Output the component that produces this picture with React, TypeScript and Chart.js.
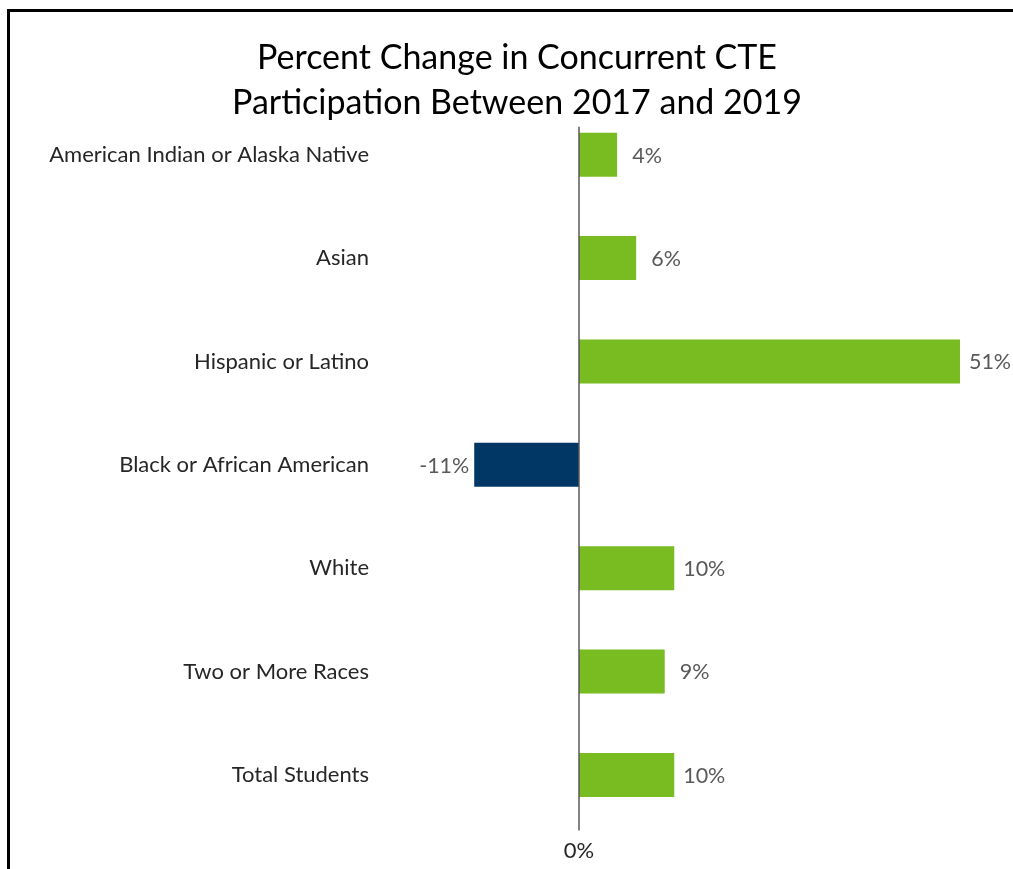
import { useEffect, useRef } from "react";
import { Chart, registerables } from "chart.js";

Chart.register(...registerables);

const categories = [
  "American Indian or Alaska Native",
  "Asian",
  "Hispanic or Latino",
  "Black or African American",
  "White",
  "Two or More Races",
  "Total Students",
];
const percentChange = [4, 6, 51, -11, 10, 9, 10];
const xTickValues = [0];
const titleLines = [
  "Percent Change in Concurrent CTE",
  "Participation Between 2017 and 2019",
];
const xMin = -20;
const xMax = 40;

const GREEN = "#78BC21";
const NAVY = "#003764";
const FONT = "Lato";

const dataLabelPlugin = {
  id: "dataLabels",
  afterDatasetsDraw(chart: any) {
    const { ctx, chartArea } = chart;
    const meta = chart.getDatasetMeta(0);
    ctx.save();
    ctx.font = `21.5px ${FONT}`;
    ctx.fillStyle = "#595959";
    ctx.textAlign = "center";
    ctx.textBaseline = "middle";
    meta.data.forEach((bar: any, i: number) => {
      const v = percentChange[i];
      const end = Math.max(Math.min(bar.x, chartArea.right), chartArea.left);
      const x = v >= 0 ? end + 30 : end - 30;
      ctx.fillText(`${v}%`, x, bar.y + 1);
    });
    ctx.restore();
  },
};

// vertical axis line at 0%, starting just above the first bar
const zeroLinePlugin = {
  id: "zeroLine",
  afterDatasetsDraw(chart: any) {
    const { ctx, chartArea } = chart;
    const meta = chart.getDatasetMeta(0);
    const first = meta.data[0];
    if (!first) return;
    const x = chart.scales.x.getPixelForValue(0);
    const top = first.y - first.height / 2 - 6;
    ctx.save();
    ctx.strokeStyle = "#595959";
    ctx.lineWidth = 1.5;
    ctx.beginPath();
    ctx.moveTo(x, top);
    ctx.lineTo(x, chartArea.bottom + 4);
    ctx.stroke();
    ctx.restore();
  },
};

// shift the title block so it is centred like the original
const titleShiftPlugin = {
  id: "titleShift",
  afterLayout(chart: any) {
    const t = chart.titleBlock;
    if (t) {
      t.left += 27;
      t.right += 27;
    }
  },
};

export default function App() {
  const ref = useRef<HTMLCanvasElement | null>(null);

  useEffect(() => {
    if (!ref.current) return;
    const chart = new Chart(ref.current, {
      type: "bar",
      data: {
        labels: categories,
        datasets: [
          {
            data: percentChange,
            backgroundColor: percentChange.map((v) => (v >= 0 ? GREEN : NAVY)),
            borderWidth: 0,
            categoryPercentage: 1,
            barPercentage: 0.425,
            clip: 0 as any,
          },
        ],
      },
      options: {
        indexAxis: "y",
        animation: false,
        responsive: true,
        maintainAspectRatio: false,
        layout: { padding: { left: 20, right: 53, top: 0, bottom: -6 } },
        plugins: {
          legend: { display: false },
          tooltip: { enabled: false },
          title: {
            display: true,
            text: titleLines,
            color: "#000000",
            font: { family: FONT, size: 34, weight: "normal", lineHeight: 45 / 34 },
            padding: { top: 36, bottom: -23 },
          },
        },
        scales: {
          x: {
            type: "linear",
            min: xMin,
            max: xMax,
            afterBuildTicks: (scale: any) => {
              scale.ticks = xTickValues.map((value) => ({ value }));
            },
            ticks: {
              color: "#262626",
              font: { family: FONT, size: 22 },
              padding: 11,
              callback: (v: any) => `${v}%`,
            },
            grid: { display: false, drawTicks: false },
            border: { display: false },
          },
          y: {
            afterFit: (scale: any) => {
              scale.width = 368.5;
            },
            ticks: {
              color: "#262626",
              font: { family: FONT, size: 22 },
              padding: 19.5,
            },
            grid: { display: false, drawTicks: false },
            border: { display: false },
          },
        },
      },
      plugins: [zeroLinePlugin, dataLabelPlugin, titleShiftPlugin],
    });
    return () => chart.destroy();
  }, []);

  return (
    <div
      style={{
        position: "fixed",
        left: 0,
        top: 0,
        width: 1013,
        height: 869,
        overflow: "hidden",
        background: "#ffffff",
      }}
    >
      <div
        style={{
          position: "absolute",
          left: 7,
          top: 9,
          width: 1100,
          height: 1000,
          borderLeft: "3px solid #000",
          borderTop: "3px solid #000",
        }}
      />
      <div style={{ position: "absolute", left: 0, top: 0, width: 1013, height: 869 }}>
        <canvas ref={ref} />
      </div>
    </div>
  );
}
